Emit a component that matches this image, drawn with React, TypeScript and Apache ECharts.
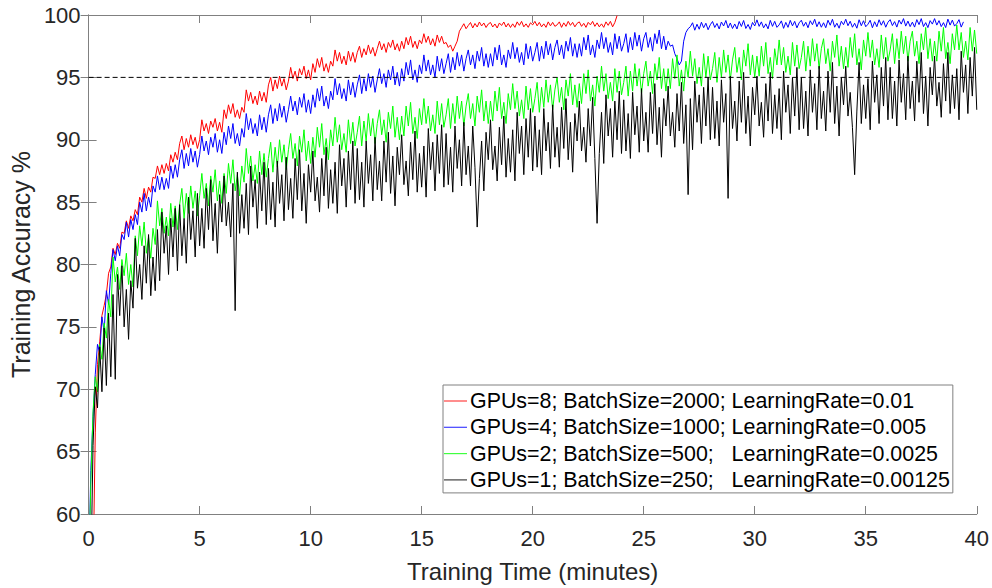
import React, { useEffect, useRef } from "react";
import * as echarts from "echarts";

// ---- data ----
const SERIES_NAMES = [
  "GPUs=8; BatchSize=2000; LearningRate=0.01",
  "GPUs=4; BatchSize=1000; LearningRate=0.005",
  "GPUs=2; BatchSize=500;   LearningRate=0.0025",
  "GPUs=1; BatchSize=250;   LearningRate=0.00125",
];

const X_MIN = 0;
const X_MAX = 40;
const X_INTERVAL = 5;
const Y_MIN = 60;
const Y_MAX = 100;
const Y_INTERVAL = 5;
const THRESHOLD = 95;

// time stamps: start + i * step (minutes)
const RED_START = 0.2;
const RED_STEP = 0.1;
const RED_ACC = [
  55, 66.5, 72.0, 73.8, 75.9, 76.7, 77.6, 79.3, 79.8,
  81.3, 80.8, 81.7, 81.3, 82.6, 82.5, 83.5, 82.9, 83.9, 83.5,
  84.4, 84.0, 85.4, 85.0, 86.1, 85.3, 86.2, 85.8, 87.0, 86.9,
  87.9, 87.2, 88.0, 87.3, 88.1, 87.5, 88.8, 88.2, 89.0, 88.4,
  89.7, 90.3, 89.2, 90.1, 89.4, 90.4, 89.6, 90.2, 89.3, 90.0,
  91.6, 90.7, 91.3, 90.5, 91.5, 91.0, 91.7, 90.7, 91.4, 90.6,
  92.4, 91.7, 92.8, 92.1, 92.9, 91.8, 92.4, 91.7, 92.6, 92.2,
  94.0, 93.1, 93.8, 92.9, 93.5, 92.8, 93.9, 93.1, 93.8, 93.0,
  94.4, 95.0, 93.9, 94.8, 94.1, 95.1, 94.3, 94.9, 94.0, 94.7,
  95.8, 94.9, 95.5, 94.7, 95.7, 95.2, 95.9, 94.9, 95.6, 94.8,
  96.1, 95.4, 96.5, 95.8, 96.6, 95.5, 96.1, 95.4, 96.3, 95.9,
  97.2, 96.3, 97.0, 96.1, 96.7, 96.0, 97.1, 96.3, 97.0, 96.2,
  97.0, 97.5, 96.6, 97.3, 96.8, 97.6, 96.9, 97.4, 96.7, 97.3,
  97.9, 97.2, 97.7, 97.0, 97.8, 97.4, 98.0, 97.2, 97.7, 97.1,
  97.9, 97.3, 98.2, 97.6, 98.3, 97.4, 97.9, 97.3, 98.0, 97.7,
  98.5, 97.8, 98.3, 97.6, 98.1, 97.5, 98.4, 97.8, 98.3, 97.7,
  97.8, 97.4, 97.6, 97.1, 97.5, 97.9, 98.7, 99.0, 99.3, 98.9,
  99.16, 99.4, 98.96, 99.32, 99.04, 99.44, 99.12, 99.36, 99.0, 99.28,
  99.4, 99.04, 99.28, 98.96, 99.36, 99.16, 99.44, 99.04, 99.32, 99.0,
  99.29, 99.01, 99.45, 99.17, 99.49, 99.05, 99.29, 99.01, 99.37, 99.21,
  99.49, 99.13, 99.41, 99.05, 99.29, 99.01, 99.45, 99.13, 99.41, 99.09,
  99.21, 99.45, 99.01, 99.37, 99.09, 99.49, 99.17, 99.41, 99.05, 99.33,
  99.45, 99.09, 99.33, 99.01, 99.41, 99.21, 99.49, 99.09, 99.37, 99.05,
  99.29, 99.01, 99.45, 99.17, 99.49, 99.05, 99.4, 99.95,
];

const BLUE_START = 0;
const BLUE_STEP = 0.1;
const BLUE_ACC = [
  55, 63.5, 67.8, 71.2, 73.6, 72.9, 75.8, 74.6, 77.9, 76.8, 79.3,
  81.2, 80.3, 81.5, 80.7, 82.4, 82.0, 83.4, 82.2, 83.6, 82.8,
  84.0, 83.2, 85.0, 84.2, 85.7, 84.3, 85.4, 84.6, 86.3, 85.8,
  87.1, 86.0, 87.0, 86.0, 86.9, 86.1, 87.9, 86.9, 88.0, 87.0,
  88.4, 89.2, 87.7, 88.9, 87.9, 89.3, 88.2, 89.1, 87.8, 88.8,
  90.3, 89.1, 89.9, 88.8, 90.2, 89.4, 90.5, 89.0, 90.0, 88.9,
  90.6, 89.6, 91.1, 90.1, 91.3, 89.7, 90.5, 89.5, 90.9, 90.2,
  92.1, 90.8, 91.7, 90.5, 91.3, 90.3, 92.0, 90.8, 91.8, 90.6,
  92.0, 92.8, 91.3, 92.5, 91.5, 92.9, 91.8, 92.7, 91.4, 92.4,
  93.5, 92.3, 93.1, 92.0, 93.4, 92.6, 93.7, 92.2, 93.2, 92.1,
  93.6, 92.6, 94.1, 93.1, 94.3, 92.7, 93.5, 92.5, 93.9, 93.2,
  94.9, 93.6, 94.5, 93.3, 94.1, 93.1, 94.8, 93.6, 94.6, 93.4,
  94.4, 95.2, 93.7, 94.9, 93.9, 95.3, 94.2, 95.1, 93.8, 94.8,
  95.7, 94.5, 95.3, 94.2, 95.6, 94.8, 95.9, 94.4, 95.4, 94.3,
  95.7, 94.7, 96.2, 95.2, 96.4, 94.8, 95.6, 94.6, 96.0, 95.3,
  96.8, 95.5, 96.4, 95.2, 96.0, 95.0, 96.7, 95.5, 96.5, 95.3,
  96.1, 96.9, 95.4, 96.6, 95.6, 97.0, 95.9, 96.8, 95.5, 96.5,
  97.2, 96.0, 96.8, 95.7, 97.1, 96.3, 97.4, 95.9, 96.9, 95.8,
  96.9, 95.9, 97.4, 96.4, 97.6, 96.0, 96.8, 95.8, 97.2, 96.5,
  97.8, 96.5, 97.4, 96.2, 97.0, 96.0, 97.7, 96.5, 97.5, 96.3,
  97.0, 97.8, 96.3, 97.5, 96.5, 97.9, 96.8, 97.7, 96.4, 97.4,
  98.0, 96.8, 97.6, 96.5, 97.9, 97.1, 98.2, 96.7, 97.7, 96.6,
  97.7, 96.7, 98.2, 97.2, 98.4, 96.8, 97.6, 96.6, 98.0, 97.3,
  98.6, 97.3, 98.2, 97.0, 97.8, 96.8, 98.5, 97.3, 98.3, 97.1,
  97.7, 98.5, 97.0, 98.2, 97.2, 98.6, 97.5, 98.4, 97.1, 98.1,
  98.6, 97.4, 98.2, 97.1, 98.5, 97.7, 98.8, 97.3, 98.3, 97.2,
  97.9, 97.5, 97.6, 96.9, 96.5, 96.0, 96.3, 97.9, 98.6, 98.9,
  99.06, 99.38, 98.78, 99.26, 98.86, 99.42, 98.98, 99.34, 98.82, 99.22,
  99.48, 99.0, 99.32, 98.88, 99.44, 99.12, 99.56, 98.96, 99.36, 98.92,
  99.28, 98.88, 99.48, 99.08, 99.56, 98.92, 99.24, 98.84, 99.4, 99.12,
  99.61, 99.09, 99.45, 98.97, 99.29, 98.89, 99.57, 99.09, 99.49, 99.01,
  99.21, 99.53, 98.93, 99.41, 99.01, 99.57, 99.13, 99.49, 98.97, 99.37,
  99.58, 99.1, 99.42, 98.98, 99.54, 99.22, 99.66, 99.06, 99.46, 99.02,
  99.38, 98.98, 99.58, 99.18, 99.66, 99.02, 99.34, 98.94, 99.5, 99.22,
  99.66, 99.14, 99.5, 99.02, 99.34, 98.94, 99.62, 99.14, 99.54, 99.06,
  99.26, 99.58, 98.98, 99.46, 99.06, 99.62, 99.18, 99.54, 99.02, 99.42,
  99.63, 99.15, 99.47, 99.03, 99.59, 99.27, 99.71, 99.11, 99.51, 99.07,
  99.43, 99.03, 99.63, 99.23, 99.71, 99.07, 99.39, 98.99, 99.55, 99.27,
  99.71, 99.19, 99.55, 99.07, 99.39, 98.99, 99.67, 99.19, 99.59, 99.11,
  99.31, 99.63, 99.03, 99.45,
];

const GREEN_START = 0;
const GREEN_STEP = 0.1;
const GREEN_ACC = [
  55, 62.5, 68.2, 71.0, 69.8, 73.6, 72.4, 75.3, 74.1, 77.2, 75.8,
  80.6, 78.6, 79.8, 78.0, 80.4, 79.1, 80.9, 78.4, 80.0, 78.2,
  82.3, 80.7, 83.1, 81.5, 83.4, 80.9, 82.2, 80.5, 82.9, 81.6,
  85.1, 83.1, 84.5, 82.5, 83.8, 82.3, 84.9, 83.0, 84.7, 82.8,
  84.8, 86.1, 83.7, 85.7, 84.1, 86.3, 84.5, 85.9, 83.9, 85.5,
  87.3, 85.3, 86.5, 84.7, 87.1, 85.8, 87.6, 85.1, 86.7, 84.9,
  87.3, 85.7, 88.1, 86.5, 88.4, 85.9, 87.2, 85.5, 87.9, 86.6,
  89.3, 87.3, 88.7, 86.7, 88.0, 86.5, 89.1, 87.2, 88.9, 87.0,
  88.5, 89.8, 87.4, 89.4, 87.8, 90.0, 88.2, 89.6, 87.6, 89.2,
  90.5, 88.5, 89.7, 87.9, 90.3, 89.0, 90.8, 88.3, 89.9, 88.1,
  90.2, 88.6, 91.0, 89.4, 91.3, 88.8, 90.1, 88.4, 90.8, 89.5,
  91.8, 89.8, 91.2, 89.2, 90.5, 89.0, 91.6, 89.7, 91.4, 89.5,
  90.6, 91.9, 89.5, 91.5, 89.9, 92.1, 90.3, 91.7, 89.7, 91.3,
  92.4, 90.4, 91.6, 89.8, 92.2, 90.9, 92.7, 90.2, 91.8, 90.0,
  91.9, 90.3, 92.7, 91.1, 93.0, 90.5, 91.8, 90.1, 92.5, 91.2,
  93.3, 91.3, 92.7, 90.7, 92.0, 90.5, 93.1, 91.2, 92.9, 91.0,
  92.0, 93.3, 90.9, 92.9, 91.3, 93.5, 91.7, 93.1, 91.1, 92.7,
  93.7, 91.7, 92.9, 91.1, 93.5, 92.2, 94.0, 91.5, 93.1, 91.3,
  93.1, 91.5, 93.9, 92.3, 94.2, 91.7, 93.0, 91.3, 93.7, 92.4,
  94.5, 92.5, 93.9, 91.9, 93.2, 91.7, 94.3, 92.4, 94.1, 92.2,
  93.3, 94.6, 92.2, 94.2, 92.6, 94.8, 93.0, 94.4, 92.4, 94.0,
  95.0, 93.0, 94.2, 92.4, 94.8, 93.5, 95.3, 92.8, 94.4, 92.6,
  94.5, 92.9, 95.3, 93.7, 95.6, 93.1, 94.4, 92.7, 95.1, 93.8,
  95.9, 93.9, 95.3, 93.3, 94.6, 93.1, 95.7, 93.8, 95.5, 93.6,
  94.6, 95.9, 93.5, 95.5, 93.9, 96.1, 94.3, 95.7, 93.7, 95.3,
  96.3, 94.3, 95.5, 93.7, 96.1, 94.8, 96.6, 94.1, 95.7, 93.9,
  95.7, 94.1, 96.5, 94.9, 96.8, 94.3, 95.6, 93.9, 96.3, 95.0,
  97.1, 95.1, 96.5, 94.5, 95.8, 94.3, 96.9, 95.0, 96.7, 94.8,
  95.7, 97.0, 94.6, 96.6, 95.0, 97.2, 95.4, 96.8, 94.8, 96.4,
  97.4, 95.4, 96.6, 94.8, 97.2, 95.9, 97.7, 95.2, 96.8, 95.0,
  96.7, 95.1, 97.5, 95.9, 97.8, 95.3, 96.6, 94.9, 97.3, 96.0,
  98.0, 96.0, 97.4, 95.4, 96.7, 95.2, 97.8, 95.9, 97.6, 95.7,
  96.6, 97.9, 95.5, 97.5, 95.9, 98.1, 96.3, 97.7, 95.7, 97.3,
  98.1, 96.1, 97.3, 95.5, 97.9, 96.6, 98.4, 95.9, 97.5, 95.7,
  97.4, 95.8, 98.2, 96.6, 98.5, 96.0, 97.3, 95.6, 98.0, 96.7,
  98.6, 96.6, 98.0, 96.0, 97.3, 95.8, 98.4, 96.5, 98.2, 96.3,
  97.2, 98.5, 96.1, 98.1, 96.5, 98.7, 96.9, 98.3, 96.3, 97.9,
  98.7, 96.7, 97.9, 96.1, 98.5, 97.2, 99.0, 96.5, 98.1, 96.3,
  97.9, 96.3, 98.7, 97.1, 99.0, 96.5, 97.8, 96.1, 98.5, 97.2,
  99.2, 97.2, 98.6, 96.6, 97.9, 96.4, 99.0, 97.1, 98.8, 96.9,
];

const BLACK_START = 0.1;
const BLACK_STEP = 0.1;
const BLACK_ACC = [
  55, 65.5, 70.2, 68.5, 73.4, 69.8, 74.9, 70.3, 76.1, 71.0,
  77.6, 70.8, 79.2, 75.9, 79.9, 75.0, 78.0, 74.0, 78.7, 76.5,
  82.1, 78.1, 80.0, 77.2, 81.5, 78.5, 82.4, 77.5, 80.6, 77.9,
  82.8, 78.7, 84.2, 80.9, 83.1, 79.2, 83.7, 80.6, 84.5, 79.5,
  84.8, 80.7, 83.7, 80.1, 85.4, 82.0, 84.3, 80.6, 85.7, 81.5,
  84.5, 81.3, 86.1, 82.8, 86.8, 81.9, 84.9, 80.9, 85.6, 83.4,
  87.1, 83.1, 85.0, 82.2, 86.5, 76.3, 87.4, 82.5, 85.6, 82.9,
  86.5, 82.4, 87.9, 84.6, 86.8, 82.9, 87.4, 84.3, 88.2, 83.2,
  87.7, 83.6, 86.6, 83.0, 88.3, 84.9, 87.2, 83.5, 88.6, 84.4,
  86.9, 83.7, 88.5, 85.2, 89.2, 84.3, 87.3, 83.3, 88.0, 85.8,
  89.1, 85.1, 87.0, 84.2, 88.5, 85.5, 89.4, 84.5, 87.6, 84.9,
  88.2, 84.1, 89.6, 86.3, 88.5, 84.6, 89.1, 86.0, 89.9, 84.9,
  89.3, 85.2, 88.2, 84.6, 89.9, 86.5, 88.8, 85.1, 90.2, 86.0,
  88.3, 85.1, 89.9, 86.6, 90.6, 85.7, 88.7, 84.7, 89.4, 87.2,
  90.4, 86.4, 88.3, 85.5, 89.8, 86.8, 90.7, 85.8, 88.9, 86.2,
  89.5, 85.4, 90.9, 87.6, 89.8, 85.9, 90.4, 87.3, 91.2, 86.2,
  90.5, 86.4, 89.4, 85.8, 91.1, 87.7, 90.0, 86.3, 91.4, 87.2,
  89.5, 86.3, 91.1, 87.8, 83.0, 86.9, 89.9, 85.9, 90.6, 88.4,
  91.6, 87.6, 89.5, 86.7, 91.0, 88.0, 91.9, 87.0, 90.1, 87.4,
  90.8, 86.7, 92.2, 88.9, 91.1, 87.2, 91.7, 88.6, 92.5, 87.5,
  91.9, 87.8, 90.8, 87.2, 92.5, 89.1, 91.4, 87.7, 92.8, 88.6,
  91.0, 87.8, 92.6, 89.3, 93.3, 88.4, 91.4, 87.4, 92.1, 89.9,
  93.1, 89.1, 91.0, 88.2, 92.5, 89.5, 93.4, 88.5, 83.3, 88.9,
  92.2, 88.1, 93.6, 90.3, 92.5, 88.6, 93.1, 90.0, 93.9, 88.9,
  93.2, 89.1, 92.1, 88.5, 93.8, 90.4, 92.7, 89.0, 94.1, 89.9,
  92.2, 89.0, 93.8, 90.5, 94.5, 89.6, 92.6, 88.6, 93.3, 91.1,
  94.3, 90.3, 92.2, 89.4, 93.7, 90.7, 94.6, 89.7, 92.8, 85.6,
  93.3, 89.2, 94.7, 91.4, 93.6, 89.7, 94.2, 91.1, 95.0, 90.0,
  94.2, 90.1, 93.1, 89.5, 94.8, 91.4, 93.7, 85.3, 95.1, 90.9,
  93.1, 89.9, 94.7, 91.4, 95.4, 90.5, 93.5, 89.5, 94.2, 92.0,
  95.1, 91.1, 93.0, 90.2, 94.5, 91.5, 95.4, 90.5, 93.6, 90.9,
  94.1, 90.0, 95.5, 92.2, 94.4, 90.5, 95.0, 91.9, 95.8, 90.8,
  95.0, 90.9, 93.9, 90.3, 95.6, 92.2, 94.5, 90.8, 95.9, 91.7,
  93.9, 90.7, 95.5, 92.2, 96.2, 91.3, 94.3, 90.3, 95.0, 92.8,
  95.9, 91.9, 93.8, 91.0, 87.2, 92.3, 96.2, 91.3, 94.4, 91.7,
  94.9, 90.8, 96.3, 93.0, 95.2, 91.3, 95.8, 92.7, 96.6, 91.6,
  95.8, 91.7, 94.7, 91.1, 96.4, 93.0, 95.3, 91.6, 96.7, 92.5,
  94.7, 91.5, 96.3, 93.0, 97.0, 92.1, 95.1, 91.1, 95.8, 93.6,
  96.7, 92.7, 94.6, 91.8, 96.1, 93.1, 97.0, 92.1, 95.2, 92.5,
  95.7, 91.6, 97.1, 93.8, 96.0, 92.1, 96.6, 93.5, 97.4, 92.4,
];

const COLORS = ["#ff0000", "#0000ff", "#00ff00", "#000000"];

const FONT = "'Liberation Sans', Arial, Helvetica, sans-serif";
const AXIS_COLOR = "#808080";
const TEXT_COLOR = "#262626";

function toPairs(start: number, step: number, values: number[]) {
  return values.map((v, i) => [Math.round((start + i * step) * 1000) / 1000, v]);
}

export default function App() {
  const ref = useRef<HTMLDivElement>(null);

  useEffect(() => {
    if (!ref.current) return;
    const chart = echarts.init(ref.current, undefined, { renderer: "svg" });

    const tickCommon = {
      show: true,
      inside: true,
      length: 8,
      lineStyle: { color: AXIS_COLOR, width: 1 },
    };
    const lineCommon = { show: true, lineStyle: { color: AXIS_COLOR, width: 1 } };

    const curves = [
      toPairs(RED_START, RED_STEP, RED_ACC),
      toPairs(BLUE_START, BLUE_STEP, BLUE_ACC),
      toPairs(GREEN_START, GREEN_STEP, GREEN_ACC),
      toPairs(BLACK_START, BLACK_STEP, BLACK_ACC),
    ];

    const option: any = {
      animation: false,
      backgroundColor: "#ffffff",
      textStyle: { fontFamily: FONT },
      grid: { left: 88, top: 15, right: 15, bottom: 71, containLabel: false },
      legend: {
        orient: "vertical",
        left: 443,
        top: 385,
        icon: "rect",
        data: SERIES_NAMES.map((name, i) => ({
          name,
          icon: "rect",
          itemStyle: { color: COLORS[i], borderWidth: 0, opacity: 0.75 },
        })),
        itemStyle: { borderWidth: 0 },
        itemWidth: 23,
        itemHeight: 1.2,
        itemGap: 4.3,
        padding: [5, 3, 2, 1],
        backgroundColor: "#ffffff",
        borderColor: AXIS_COLOR,
        borderWidth: 1,
        borderRadius: 0,
        selectedMode: false,
        textStyle: {
          fontFamily: FONT,
          fontSize: 21.4,
          lineHeight: 22,
          color: "#000000",
          padding: [0, 0, 0, -2],
        },
      },
      xAxis: [
        {
          type: "value",
          position: "bottom",
          min: X_MIN,
          max: X_MAX,
          interval: X_INTERVAL,
          name: "Training Time (minutes)",
          nameLocation: "middle",
          nameGap: 45,
          nameTextStyle: { fontFamily: FONT, fontSize: 24, color: TEXT_COLOR },
          axisLine: lineCommon,
          axisTick: tickCommon,
          axisLabel: { fontFamily: FONT, fontSize: 22, color: TEXT_COLOR, margin: 13 },
          splitLine: { show: false },
        },
        {
          type: "value",
          position: "top",
          min: X_MIN,
          max: X_MAX,
          interval: X_INTERVAL,
          axisLine: lineCommon,
          axisTick: tickCommon,
          axisLabel: { show: false },
          splitLine: { show: false },
        },
      ],
      yAxis: [
        {
          type: "value",
          position: "left",
          min: Y_MIN,
          max: Y_MAX,
          interval: Y_INTERVAL,
          name: "Training Accuracy %",
          nameLocation: "middle",
          nameGap: 54,
          nameTextStyle: { fontFamily: FONT, fontSize: 25, color: TEXT_COLOR },
          axisLine: lineCommon,
          axisTick: tickCommon,
          axisLabel: { fontFamily: FONT, fontSize: 22, color: TEXT_COLOR, margin: 8 },
          splitLine: { show: false },
        },
        {
          type: "value",
          position: "right",
          min: Y_MIN,
          max: Y_MAX,
          interval: Y_INTERVAL,
          axisLine: lineCommon,
          axisTick: tickCommon,
          axisLabel: { show: false },
          splitLine: { show: false },
        },
      ],
      series: [
        ...curves.map((data, i) => ({
          name: SERIES_NAMES[i],
          type: "line",
          xAxisIndex: 0,
          yAxisIndex: 0,
          data,
          showSymbol: false,
          symbol: "none",
          clip: true,
          color: COLORS[i],
          itemStyle: { color: COLORS[i] },
          lineStyle: { color: COLORS[i], width: 1 },
          z: 2 + i,
        })),
        {
          name: "threshold",
          type: "line",
          xAxisIndex: 0,
          yAxisIndex: 0,
          data: [
            [X_MIN, THRESHOLD],
            [X_MAX, THRESHOLD],
          ],
          showSymbol: false,
          symbol: "none",
          color: "#000000",
          lineStyle: { color: "#000000", width: 1, type: [5, 3] },
          z: 10,
        },
      ],
    };

    chart.setOption(option);
    return () => {
      chart.dispose();
    };
  }, []);

  return (
    <div
      ref={ref}
      style={{ position: "fixed", left: 0, top: 0, width: 992, height: 588, background: "#fff" }}
    />
  );
}
